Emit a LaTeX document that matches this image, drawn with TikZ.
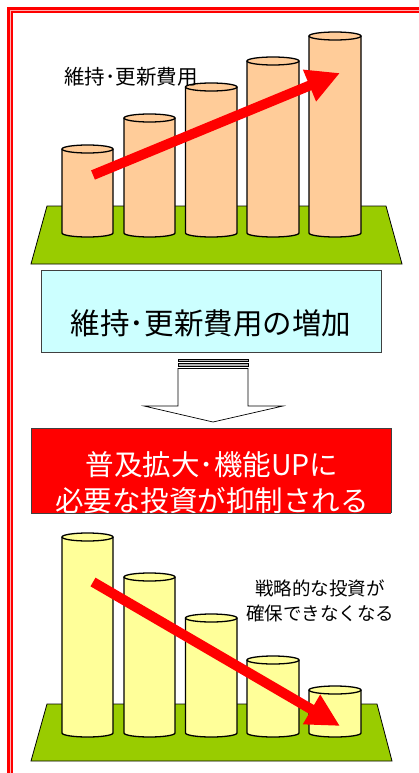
\documentclass[tikz,border=0pt]{standalone}
\usepackage{fontspec}
\setmainfont{Noto Sans CJK JP}
\usetikzlibrary{arrows.meta}
\definecolor{peach}{HTML}{FFCC99}
\definecolor{lyellow}{HTML}{FFFF99}
\definecolor{grass}{HTML}{99CC00}
\definecolor{lcyan}{HTML}{CCFFFF}
\definecolor{pale}{HTML}{FFB0B0}
\tikzset{
  cylline/.style={draw=black, line width=1.3pt},
  plat/.style={draw=black, line width=0.8pt, fill=grass},
  bigarrow/.style={draw=red, line width=10pt, -{Triangle[length=33pt,width=32pt]}},
  boxline/.style={draw=black!75, line width=0.8pt, inner sep=0pt, anchor=north west},
  blockarrow/.style={draw=black, line width=0.7pt, fill=white},
}
\newcommand{\mycyl}[5]{%
  \pgfmathsetmacro\cx{(#1+#2)/2}\pgfmathsetmacro\rx{(#2-#1)/2}%
  \path[cylline, fill=#5] (#1,#3) -- (#1,#4) arc[start angle=180,end angle=0,x radius=\rx,y radius=4] -- (#2,#3);%
  \path[cylline, fill=#5] (\cx,#3) ellipse[x radius=\rx, y radius=4];%
}
\begin{document}
\begin{tikzpicture}[x=1pt,y=-1pt]
\useasboundingbox (0,0) rectangle (419,773);
\fill[white] (0,0) rectangle (419,773);
% border
\draw[red, line width=6pt] (10,773) -- (10,10) -- (419,10);
\draw[pale, line width=0.8pt] (10.6,773) -- (10.6,10.6) -- (419,10.6);
% top chart
\draw[plat] (47,206) -- (386,206) -- (402,264) -- (31,264) -- cycle;
\mycyl{62}{113}{149}{233}{peach}
\mycyl{124}{175}{118}{233}{peach}
\mycyl{185.5}{237}{87}{233}{peach}
\mycyl{247}{299}{61}{233}{peach}
\mycyl{309}{361}{36}{233}{peach}
\coordinate (t1) at (93,175);
\coordinate (h1) at (340,73);
\draw[bigarrow] (t1) -- (h1);
\node[font=\fontsize{20.5}{24}\selectfont] (lbl1) at (131,77) {維持･更新費用};
% cyan box
\node[boxline, fill=lcyan, minimum width=340pt, minimum height=82pt] (cyanbox) at (41,270) {};
\node[font=\fontsize{29.5}{34}\selectfont] (cyantext) at (211,323) {維持･更新費用の増加};
% block arrow
\draw[blockarrow] (178,368.5) -- (178,406) -- (144,406) -- (213,422) -- (283,406) -- (248,406) -- (248,368.5) -- cycle;
\draw[blockarrow, fill=black!30] (178,359) rectangle (248,361.5);
\draw[blockarrow, fill=black!30] (178,363.5) rectangle (248,366.5);
% red box
\node[boxline, fill=red, minimum width=360pt, minimum height=85pt] (redbox) at (31,428) {};
\node[font=\fontsize{28.5}{32}\selectfont, text=white] (redtext1) at (212,465) {普及拡大･機能UPに};
\node[font=\fontsize{28.5}{32}\selectfont, text=white] (redtext2) at (212,501) {必要な投資が抑制される};
\fill[white] (25,513.4) rectangle (419,530);
\draw[black!75, line width=0.8pt] (31,513) -- (391,513);
% bottom chart
\draw[plat] (47,704) -- (377,704) -- (392,761) -- (31,761) -- cycle;
\mycyl{62}{113}{537}{733}{lyellow}
\mycyl{124}{175}{577}{733}{lyellow}
\mycyl{185.5}{237}{618}{733}{lyellow}
\mycyl{247}{299}{660}{733}{lyellow}
\mycyl{309}{361}{690}{733}{lyellow}
\coordinate (t2) at (93,582);
\coordinate (h2) at (340,726);
\draw[bigarrow] (t2) -- (h2);
\node[font=\fontsize{18.5}{22}\selectfont] (lbl2a) at (320,588) {戦略的な投資が};
\node[font=\fontsize{18.5}{22}\selectfont] (lbl2b) at (320,613) {確保できなくなる};
\end{tikzpicture}
\end{document}
